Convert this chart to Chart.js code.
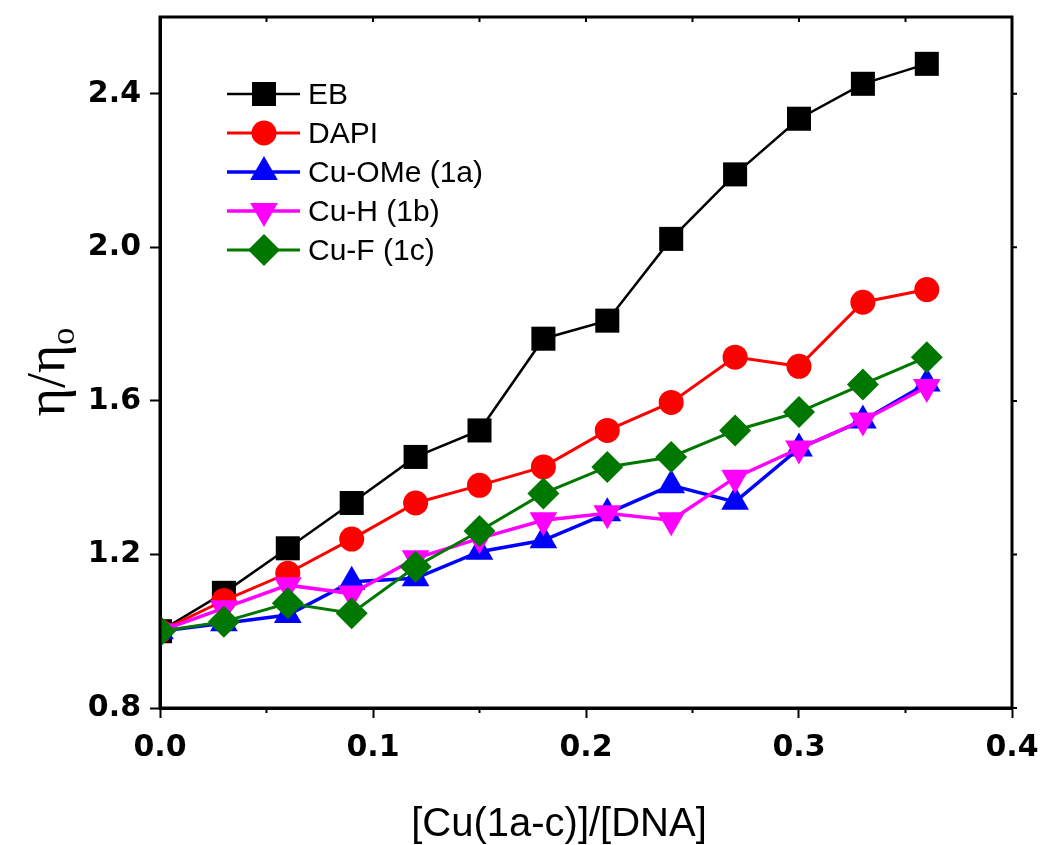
<!DOCTYPE html>
<html lang="en">
<head>
    <meta charset="UTF-8">
    <title>Viscosity plot</title>
    <script src="https://cdn.jsdelivr.net/npm/chart.js"></script>
    <style>
        html, body { margin: 0; padding: 0; background: #fff; }
        #wrap { width: 1043px; height: 845px; position: relative; }
    </style>
</head>
<body>
    <div id="wrap"><canvas id="chart"></canvas></div>

    <script>
        // Data
        const ratios = [0, 0.03, 0.06, 0.09, 0.12, 0.15, 0.18, 0.21, 0.24, 0.27, 0.30, 0.33, 0.36];
        const seriesNames = ['EB', 'DAPI', 'Cu-OMe (1a)', 'Cu-H (1b)', 'Cu-F (1c)'];
        const ebValues    = [1.00, 1.10, 1.216, 1.334, 1.454, 1.523, 1.762, 1.809, 2.022, 2.19, 2.335, 2.426, 2.478];
        const dapiValues  = [1.00, 1.08, 1.151, 1.24, 1.334, 1.38, 1.428, 1.523, 1.596, 1.714, 1.69, 1.857, 1.89];
        const omeValues   = [1.00, 1.021, 1.042, 1.129, 1.138, 1.207, 1.237, 1.307, 1.38, 1.337, 1.476, 1.549, 1.645];
        const hValues     = [1.00, 1.06, 1.12, 1.098, 1.19, 1.242, 1.289, 1.307, 1.289, 1.40, 1.476, 1.549, 1.636];
        const fValues     = [1.00, 1.025, 1.073, 1.047, 1.168, 1.261, 1.359, 1.428, 1.454, 1.523, 1.571, 1.643, 1.714];
        const xTicks = [0, 0.1, 0.2, 0.3, 0.4];
        const yTicks = [0.8, 1.2, 1.6, 2.0, 2.4];

        const styles = [
            { color: '#000000', shape: 'rect',     radius: 17, rot: 0,   width: 2.5 },
            { color: '#ff0000', shape: 'circle',   radius: 12.5, rot: 0, width: 3 },
            { color: '#0000ff', shape: 'triangle', radius: 16, rot: 0,   width: 3.5 },
            { color: '#ff00ff', shape: 'triangle', radius: 16, rot: 180, width: 3.5 },
            { color: '#007800', shape: 'rectRot',  radius: 16, rot: 0,   width: 3 }
        ];
        const allValues = [ebValues, dapiValues, omeValues, hValues, fValues];

        const datasets = allValues.map((vals, i) => ({
            label: seriesNames[i],
            data: ratios.map((x, j) => ({ x: x, y: vals[j] })),
            borderColor: styles[i].color,
            backgroundColor: styles[i].color,
            borderWidth: styles[i].width,
            pointStyle: styles[i].shape,
            pointRadius: styles[i].radius,
            pointRotation: styles[i].rot,
            pointBorderWidth: 0,
            tension: 0,
            order: 5 - i
        }));

        // Frame, minor ticks, axis titles and legend
        const decorations = {
            id: 'decorations',
            afterDraw(chart) {
                const ctx = chart.ctx;
                const a = chart.chartArea;
                const xs = chart.scales.x, ys = chart.scales.y;
                ctx.save();
                ctx.strokeStyle = '#000';
                ctx.lineWidth = 3;
                ctx.strokeRect(a.left, a.top, a.right - a.left, a.bottom - a.top);

                ctx.lineWidth = 2;
                ctx.beginPath();
                // minor x ticks (bottom outward) and top ticks (inward)
                for (let v = 0.05; v < 0.4; v += 0.1) {
                    const px = xs.getPixelForValue(v);
                    ctx.moveTo(px, a.bottom); ctx.lineTo(px, a.bottom + 5);
                }
                for (let v = 0.05; v < 0.4; v += 0.05) {
                    const px = xs.getPixelForValue(v);
                    ctx.moveTo(px, a.top); ctx.lineTo(px, a.top + 5);
                }
                // right axis ticks
                yTicks.forEach(v => {
                    const py = ys.getPixelForValue(v);
                    ctx.moveTo(a.right, py); ctx.lineTo(a.right + 5, py);
                });
                ctx.stroke();

                // x title
                ctx.fillStyle = '#000';
                ctx.font = '40px "Liberation Sans", Arial, sans-serif';
                ctx.textAlign = 'center';
                ctx.textBaseline = 'alphabetic';
                ctx.fillText('[Cu(1a-c)]/[DNA]', 559, 836);

                // y title with subscript
                ctx.save();
                ctx.translate(64, 372);
                ctx.rotate(-Math.PI / 2);
                const bigFont = '54px "Liberation Serif", "DejaVu Serif", serif';
                const smallFont = '34px "Liberation Serif", "DejaVu Serif", serif';
                ctx.textAlign = 'left';
                const main = '\u03B7/\u03B7';
                ctx.font = bigFont;
                const w = ctx.measureText(main).width;
                ctx.font = smallFont;
                const ws = ctx.measureText('o').width;
                const start = -(w + ws) / 2;
                ctx.font = bigFont;
                ctx.fillText(main, start, 0);
                ctx.font = smallFont;
                ctx.fillText('o', start + w, 10);
                ctx.restore();

                // legend
                const rowY = [94, 133, 172, 211, 250];
                ctx.font = '30px "Liberation Sans", Arial, sans-serif';
                ctx.textAlign = 'left';
                ctx.textBaseline = 'middle';
                seriesNames.forEach((name, i) => {
                    const s = styles[i];
                    const y = rowY[i];
                    ctx.strokeStyle = s.color;
                    ctx.lineWidth = s.width;
                    ctx.beginPath();
                    ctx.moveTo(227, y); ctx.lineTo(300, y);
                    ctx.stroke();
                    ctx.fillStyle = s.color;
                    Chart.helpers.drawPoint(ctx, {
                        pointStyle: s.shape, radius: s.radius, rotation: s.rot, borderWidth: 0
                    }, 264, y);
                    ctx.fillStyle = '#000';
                    ctx.fillText(name, 308, y + 2);
                });
                ctx.restore();
            }
        };

        const tickFont = { family: '"DejaVu Sans", sans-serif', size: 30, weight: 'bold' };

        new Chart(document.getElementById('chart'), {
            type: 'line',
            data: { datasets: datasets },
            options: {
                responsive: true,
                maintainAspectRatio: false,
                animation: false,
                layout: { padding: { top: 16, right: 31, left: 0, bottom: 0 } },
                plugins: { legend: { display: false }, tooltip: { enabled: false } },
                scales: {
                    x: {
                        type: 'linear',
                        min: 0, max: 0.4,
                        afterBuildTicks: s => { s.ticks = xTicks.map(v => ({ value: v })); },
                        afterFit: s => { s.height = 137; s.paddingLeft = 0; s.paddingRight = 0; },
                        grid: { drawOnChartArea: false, tickLength: 10, tickWidth: 2, color: '#000' },
                        border: { color: '#000', width: 3 },
                        ticks: {
                            color: '#000', font: tickFont, padding: 12, maxRotation: 0,
                            callback: v => Number(v).toFixed(1)
                        }
                    },
                    y: {
                        type: 'linear',
                        min: 0.8, max: 2.6,
                        afterBuildTicks: s => { s.ticks = yTicks.map(v => ({ value: v })); },
                        afterFit: s => { s.width = 160; s.paddingTop = 0; s.paddingBottom = 0; },
                        grid: { drawOnChartArea: false, tickLength: 10, tickWidth: 2, color: '#000' },
                        border: { color: '#000', width: 3 },
                        ticks: {
                            color: '#000', font: tickFont, padding: 9,
                            callback: v => Number(v).toFixed(1)
                        }
                    }
                }
            },
            plugins: [decorations]
        });
    </script>
</body>
</html>
